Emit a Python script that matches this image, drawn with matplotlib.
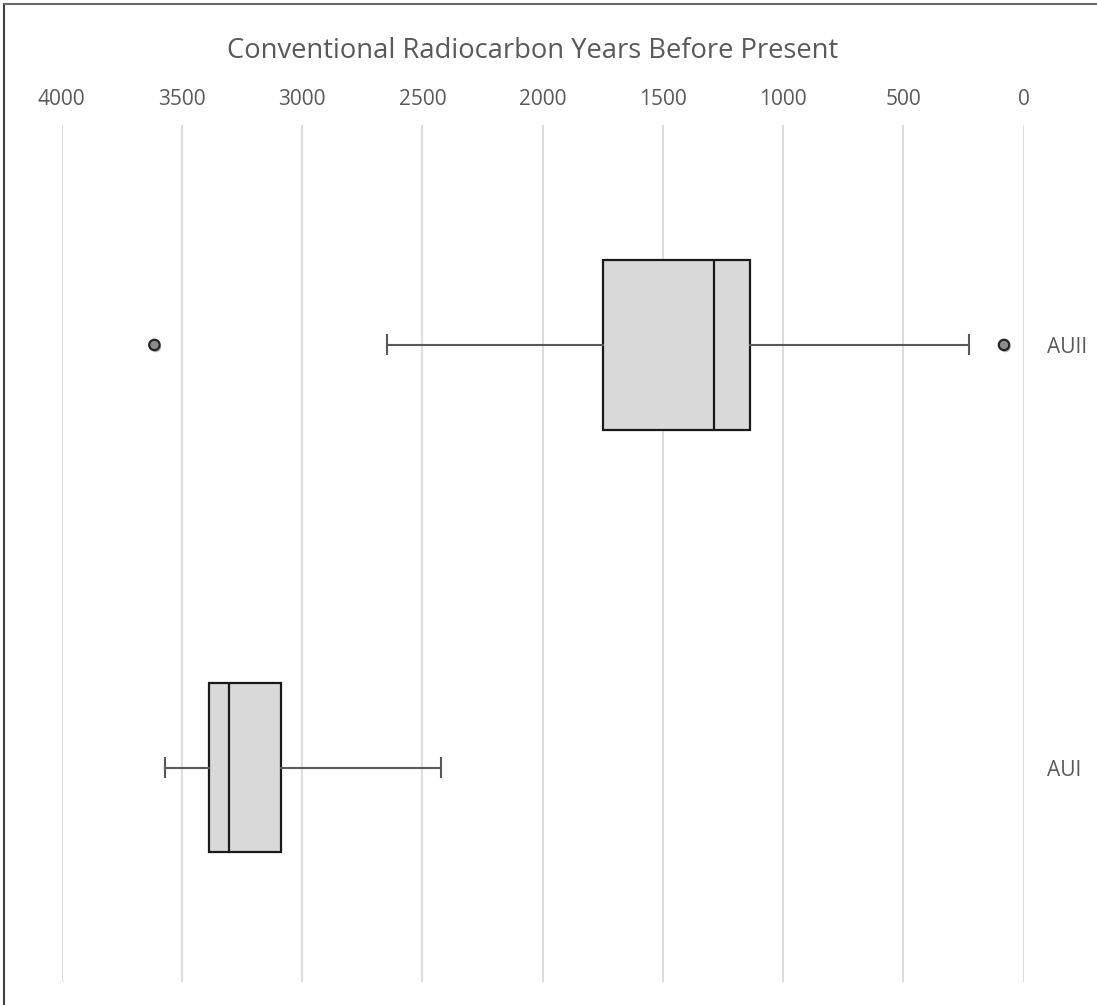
import matplotlib
matplotlib.use('Agg')
import matplotlib.pyplot as plt
import matplotlib.patheffects as pe
from matplotlib.lines import Line2D

# box plot statistics (radiocarbon years BP)
groups = ['AUI', 'AUII']
whislo = [2421, 227]
q1 = [3086, 1136]
med = [3303, 1286]
q3 = [3387, 1748]
whishi = [3570, 2645]
fliers = [[], [3614, 81]]

xticks = [4000, 3500, 3000, 2500, 2000, 1500, 1000, 500, 0]
title = 'Conventional Radiocarbon Years Before Present'

text_color = '#595959'
plt.rcParams['font.family'] = ['Open Sans', 'DejaVu Sans']

fig = plt.figure(figsize=(10.97, 10.05), dpi=100)
ax = fig.add_axes([61.6 / 1097, 1 - 981.5 / 1005, (1023.5 - 61.6) / 1097, (981.5 - 125) / 1005])

stats = []
for i in range(len(groups)):
    stats.append({'whislo': whislo[i], 'q1': q1[i], 'med': med[i], 'q3': q3[i],
                  'whishi': whishi[i], 'fliers': fliers[i], 'label': groups[i]})

ax.bxp(stats, positions=[1, 2], widths=0.4, orientation='horizontal',
       patch_artist=True, showfliers=True,
       boxprops=dict(facecolor='#d9d9d9', edgecolor='#1a1a1a', linewidth=1.6),
       medianprops=dict(color='#1a1a1a', linewidth=1.6),
       whiskerprops=dict(color='#595959', linewidth=1.5),
       capprops=dict(color='#595959', linewidth=1.5),
       capwidths=0.045,
       flierprops=dict(marker='o', markersize=7.5, markerfacecolor='#8c8c8c',
                       markeredgecolor='#262626', markeredgewidth=1.6,
                       path_effects=[pe.SimplePatchShadow(offset=(1, -1.5), alpha=0.35), pe.Normal()]))

ax.set_xlim(4000, 0)
ax.set_ylim(0.495, 2.52)
ax.set_xticks(xticks)
ax.set_xticklabels([str(t) for t in xticks])
ax.xaxis.tick_top()
ax.tick_params(axis='x', length=0, pad=11, labelsize=15, labelcolor=text_color)
ax.yaxis.tick_right()
ax.set_yticks([1, 2])
ax.set_yticklabels(groups)
ax.tick_params(axis='y', length=0, pad=17, labelsize=15, labelcolor=text_color)
ax.grid(axis='x', color='#d9d9d9', linewidth=1.3)
ax.set_axisbelow(True)
for s in ax.spines.values():
    s.set_visible(False)

fig.text(533 / 1097, 1 - 51 / 1005, title, ha='center', va='center',
         fontsize=19.7, color=text_color)

# border lines of the screenshot
fig.add_artist(Line2D([4 / 1097, 4 / 1097], [0, 1 - 4 / 1005], color='#404040', linewidth=1.5))
fig.add_artist(Line2D([4 / 1097, 1], [1 - 4 / 1005, 1 - 4 / 1005], color='#6a6a6a', linewidth=1.5))

fig.savefig('out.png', dpi=100)
